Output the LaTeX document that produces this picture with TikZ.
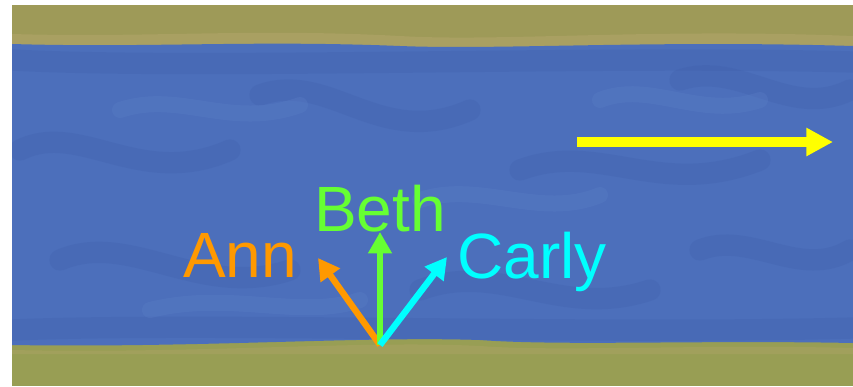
\documentclass[tikz,border=0pt]{standalone}
\usepackage{fontspec}
\setmainfont{Liberation Sans}
\usetikzlibrary{arrows.meta}
\definecolor{river}{RGB}{76,111,187}
\definecolor{riverdark}{RGB}{58,88,165}
\definecolor{riverlight}{RGB}{92,128,200}
\definecolor{grass}{RGB}{158,154,88}
\definecolor{grassb}{RGB}{152,158,84}
\definecolor{sand}{RGB}{180,166,108}
\definecolor{annc}{RGB}{255,153,0}
\definecolor{bethc}{RGB}{102,255,51}
\definecolor{carlyc}{RGB}{0,255,255}
\definecolor{yel}{RGB}{255,255,0}
\tikzset{
  vec/.style={line width=4.8pt,-{Triangle[length=16pt,width=17pt]}},
  flow/.style={line width=7.5pt,yel,-{Triangle[length=20pt,width=20pt]}},
  lbl/.style={inner sep=0pt,anchor=base west,font=\fontsize{48}{52}\selectfont},
  wave/.style={riverdark,opacity=0.2,line width=16pt,line cap=round},
  wavel/.style={riverlight,opacity=0.3,line width=12pt,line cap=round}
}
\begin{document}
\begin{tikzpicture}[x=0.75pt,y=-0.75pt]
\useasboundingbox (0,0) rectangle (853,386);
% banks
\fill[grass] (12,5) rectangle (853,60);
\fill[grassb] (12,330) rectangle (853,386);
% sandy edges
\fill[sand,opacity=0.5] (12,34) .. controls (150,38) and (250,28) .. (400,36) .. controls (500,42) and (650,28) .. (853,36) -- (853,52) -- (12,52) -- cycle;
\fill[sand,opacity=0.35] (12,354) -- (853,354) -- (853,348) .. controls (700,344) and (560,352) .. (480,346) .. controls (360,340) and (200,354) .. (12,350) -- cycle;
% river
\fill[river] (12,44) .. controls (150,48) and (250,40) .. (400,46) .. controls (500,50) and (650,40) .. (853,46)
  -- (853,343) .. controls (700,340) and (560,346) .. (480,340) .. controls (360,336) and (200,348) .. (12,345) -- cycle;
% texture
\begin{scope}
\clip (12,44) .. controls (150,48) and (250,40) .. (400,46) .. controls (500,50) and (650,40) .. (853,46)
  -- (853,343) .. controls (700,340) and (560,346) .. (480,340) .. controls (360,336) and (200,348) .. (12,345) -- cycle;
\draw[wave] (20,150) .. controls (80,120) and (140,190) .. (230,150);
\draw[wave] (260,95) .. controls (330,70) and (380,150) .. (470,110);
\draw[wave] (520,170) .. controls (600,140) and (660,200) .. (760,160);
\draw[wave] (60,260) .. controls (130,230) and (200,300) .. (290,270);
\draw[wave] (420,290) .. controls (500,260) and (560,320) .. (650,290);
\draw[wave] (680,80) .. controls (740,60) and (790,120) .. (850,90);
\draw[wave] (700,250) .. controls (750,230) and (800,280) .. (850,250);
\draw[wave] (12,60) .. controls (200,70) and (600,55) .. (853,62);
\draw[wave] (12,330) .. controls (200,322) and (600,335) .. (853,328);
\draw[wavel] (120,110) .. controls (180,90) and (230,130) .. (300,105);
\draw[wavel] (420,200) .. controls (480,180) and (540,220) .. (600,195);
\draw[wavel] (600,100) .. controls (650,80) and (700,120) .. (760,100);
\draw[wavel] (150,310) .. controls (230,290) and (300,320) .. (360,300);
\end{scope}
% flow arrow
\coordinate (f0) at (577,142);
\coordinate (f1) at (833,142);
\draw[flow] (f0) -- (f1);
% vectors
\coordinate (O) at (380,345);
\coordinate (a) at (318,258);
\coordinate (b) at (380,232);
\coordinate (c) at (447,257);
\draw[vec,annc] (O) -- (a);
\draw[vec,bethc] (O) -- (b);
\draw[vec,carlyc] (O) -- (c);
\node[lbl,annc] (ann) at (183,277) {Ann};
\node[lbl,bethc] (beth) at (314,231) {Beth};
\node[lbl,carlyc] (carly) at (457,278) {Carly};
\end{tikzpicture}
\end{document}
